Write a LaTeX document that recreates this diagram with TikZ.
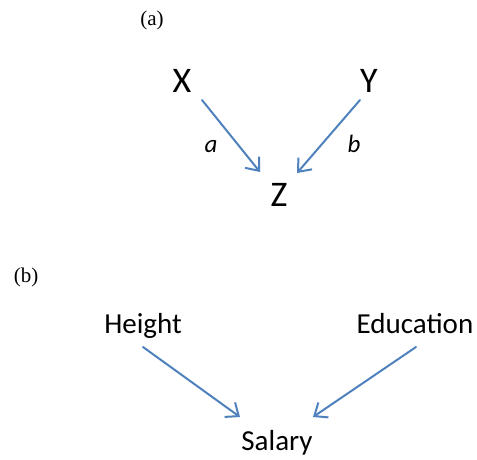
\documentclass[tikz,border=0pt]{standalone}
\usepackage{fontspec}
\setmainfont{Liberation Serif}
\newfontfamily\calib{Carlito}
\usetikzlibrary{arrows.meta}
\definecolor{edgeblue}{RGB}{79,129,189}
\begin{document}
\begin{tikzpicture}[x=1pt, y=-1pt, line join=round, line cap=round,
    var/.style={font=\calib\fontsize{36}{40}\selectfont, inner sep=0pt, anchor=base},
    word/.style={font=\calib\fontsize{29}{34}\selectfont, inner sep=0pt, anchor=base},
    coef/.style={font=\calib\itshape\fontsize{25}{30}\selectfont, inner sep=0pt, anchor=base},
    panel/.style={font=\fontsize{21}{25}\selectfont, inner sep=0pt, anchor=base},
    arr/.style={edgeblue, line width=2pt, -{Straight Barb[length=11pt,width=18pt,line width=2pt]}}]
    \useasboundingbox (0,0) rectangle (477,459);
    % ============= (a)
    \node[panel] (pa) at (152,25) {(a)};
    \node[var] (X) at (182,92) {X};
    \node[var] (Y) at (369,92) {Y};
    \node[var] (Z) at (279,206) {Z};
    \node[coef] (ca) at (211,152) {a};
    \node[coef] (cb) at (354,152) {b};
    \draw[arr] ([shift={(20,8)}]X.base) -- ([shift={(-19,-34)}]Z.base);
    \draw[arr] ([shift={(-9,8)}]Y.base) -- ([shift={(18,-33)}]Z.base);
    % ============= (b)
    \node[panel] (pb) at (26,282) {(b)};
    \node[word] (H) at (143,333) {Height};
    \node[word] (E) at (415,333) {Education};
    \node[word] (S) at (277,450) {Salary};
    \draw[arr] ([shift={(0,14)}]H.base) -- ([shift={(-37,-33)}]S.base);
    \draw[arr] ([shift={(1,14)}]E.base) -- ([shift={(36,-33)}]S.base);
\end{tikzpicture}
\end{document}
